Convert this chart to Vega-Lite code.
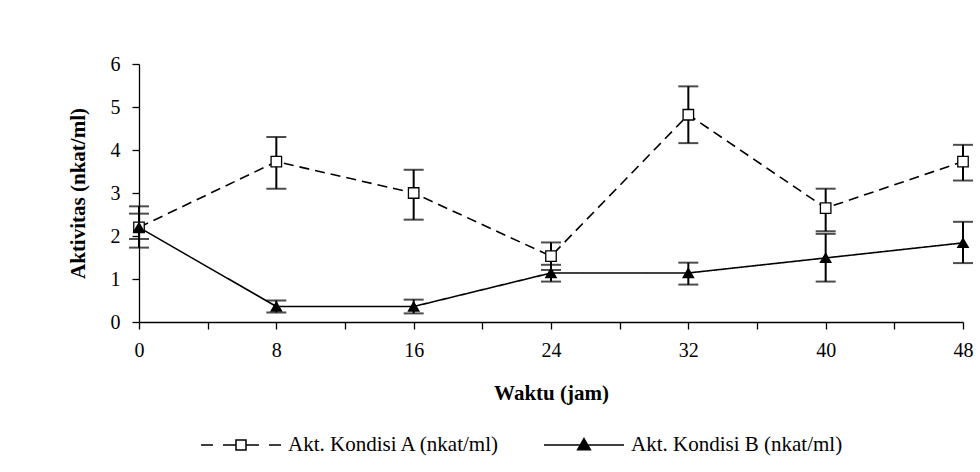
{
  "$schema": "https://vega.github.io/schema/vega-lite/v6.json",
  "width": 824,
  "height": 258,
  "autosize": "none",
  "padding": {"left": 139, "top": 64, "right": 17, "bottom": 150},
  "background": "white",
  "data": {
    "values": [
      {"t": 0, "series": "Akt. Kondisi A (nkat/ml)", "mean": 2.2, "lo": 1.73, "hi": 2.69},
      {"t": 8, "series": "Akt. Kondisi A (nkat/ml)", "mean": 3.73, "lo": 3.1, "hi": 4.3},
      {"t": 16, "series": "Akt. Kondisi A (nkat/ml)", "mean": 3.0, "lo": 2.38, "hi": 3.54},
      {"t": 24, "series": "Akt. Kondisi A (nkat/ml)", "mean": 1.53, "lo": 1.21, "hi": 1.85},
      {"t": 32, "series": "Akt. Kondisi A (nkat/ml)", "mean": 4.82, "lo": 4.16, "hi": 5.48},
      {"t": 40, "series": "Akt. Kondisi A (nkat/ml)", "mean": 2.65, "lo": 2.11, "hi": 3.1},
      {"t": 48, "series": "Akt. Kondisi A (nkat/ml)", "mean": 3.73, "lo": 3.29, "hi": 4.12},
      {"t": 0, "series": "Akt. Kondisi B (nkat/ml)", "mean": 2.2, "lo": 1.93, "hi": 2.52},
      {"t": 8, "series": "Akt. Kondisi B (nkat/ml)", "mean": 0.36, "lo": 0.22, "hi": 0.5},
      {"t": 16, "series": "Akt. Kondisi B (nkat/ml)", "mean": 0.36, "lo": 0.2, "hi": 0.52},
      {"t": 24, "series": "Akt. Kondisi B (nkat/ml)", "mean": 1.14, "lo": 0.94, "hi": 1.33},
      {"t": 32, "series": "Akt. Kondisi B (nkat/ml)", "mean": 1.14, "lo": 0.87, "hi": 1.38},
      {"t": 40, "series": "Akt. Kondisi B (nkat/ml)", "mean": 1.49, "lo": 0.94, "hi": 2.05},
      {"t": 48, "series": "Akt. Kondisi B (nkat/ml)", "mean": 1.84, "lo": 1.37, "hi": 2.33}
    ]
  },
  "encoding": {
    "x": {
      "field": "t",
      "type": "quantitative",
      "scale": {"domain": [0, 48], "nice": false, "zero": false},
      "axis": {
        "title": "Waktu (jam)",
        "values": [0, 4, 8, 12, 16, 20, 24, 28, 32, 36, 40, 44, 48],
        "labelExpr": "datum.value % 8 == 0 ? datum.label : ''",
        "grid": false,
        "tickSize": 7,
        "labelPadding": 11,
        "titlePadding": 22,
        "labelFlush": false,
        "labelOverlap": false
      }
    }
  },
  "layer": [
    {
      "mark": {"type": "errorbar", "ticks": {"size": 20, "thickness": 2, "color": "black"}, "rule": {"strokeWidth": 2, "color": "black"}, "color": "black"},
      "encoding": {
        "y": {"field": "lo", "type": "quantitative", "title": "Aktivitas (nkat/ml)",
          "scale": {"domain": [0, 6], "nice": false},
          "axis": {"values": [0, 1, 2, 3, 4, 5, 6], "grid": false, "tickSize": 7, "labelPadding": 12, "titlePadding": 22, "title": "Aktivitas (nkat/ml)"}},
        "y2": {"field": "hi"},
        "detail": {"field": "series"}
      }
    },
    {
      "mark": {"type": "line", "color": "black", "strokeWidth": 1.6},
      "encoding": {
        "y": {"field": "mean", "type": "quantitative"},
        "strokeDash": {"field": "series", "type": "nominal", "scale": {"range": [[10, 6], [1, 0]]}, "legend": null}
      }
    },
    {
      "mark": {"type": "point", "filled": false, "stroke": "black", "strokeWidth": 1.3, "size": 110, "opacity": 1},
      "encoding": {
        "y": {"field": "mean", "type": "quantitative"},
        "shape": {
          "field": "series", "type": "nominal",
          "scale": {"range": ["square", "triangle-up"]},
          "legend": null
        },
        "fill": {"field": "series", "type": "nominal", "scale": {"range": ["white", "black"]}, "legend": null}
      }
    },
    {
      "mark": {"type": "point", "filled": true, "color": "black", "stroke": "black", "strokeWidth": 1.5, "size": 10, "opacity": 0},
      "encoding": {
        "y": {"field": "mean", "type": "quantitative"},
        "shape": {
          "field": "series", "type": "nominal", "title": null,
          "scale": {"range": [
            "M-1,0L-0.7,0M-0.45,0L-0.125,0M0.125,0L0.45,0M0.7,0L1,0M-0.125,-0.125L0.125,-0.125L0.125,0.125L-0.125,0.125Z M-0.125,-0.125L-0.125,0.125L0.125,0.125L0.125,-0.125Z",
            "M-1,0L1,0M0,-0.16L0.16,0.12L-0.16,0.12Z"
          ]},
          "legend": {
            "orient": "none",
            "legendX": 61,
            "legendY": 340,
            "direction": "horizontal",
            "symbolSize": 6400,
            "labelFontSize": 21,
            "labelFont": "Liberation Serif",
            "labelColor": "black",
            "labelLimit": 0,
            "labelOffset": 6,
            "columnPadding": 40,
            "padding": 0,
            "symbolStrokeWidth": 1.5,
            "symbolFillColor": "black",
            "encode": {
              "symbols": {
                "update": {
                  "stroke": {"value": "black"},
                  "strokeWidth": {"value": 1.5},
                  "opacity": {"value": 1},
                  "size": {"value": 6400}
                }
              }
            }
          }
        }
      }
    }
  ],
  "resolve": {"scale": {"shape": "independent"}},
  "config": {
    "font": "Liberation Serif",
    "view": {"stroke": null},
    "axis": {
      "domainColor": "black",
      "tickColor": "black",
      "labelColor": "black",
      "titleColor": "black",
      "labelFont": "Liberation Serif",
      "titleFont": "Liberation Serif",
      "labelFontSize": 20,
      "titleFontSize": 21,
      "titleFontWeight": "bold",
      "domainWidth": 1.3,
      "tickWidth": 1.3
    }
  }
}
